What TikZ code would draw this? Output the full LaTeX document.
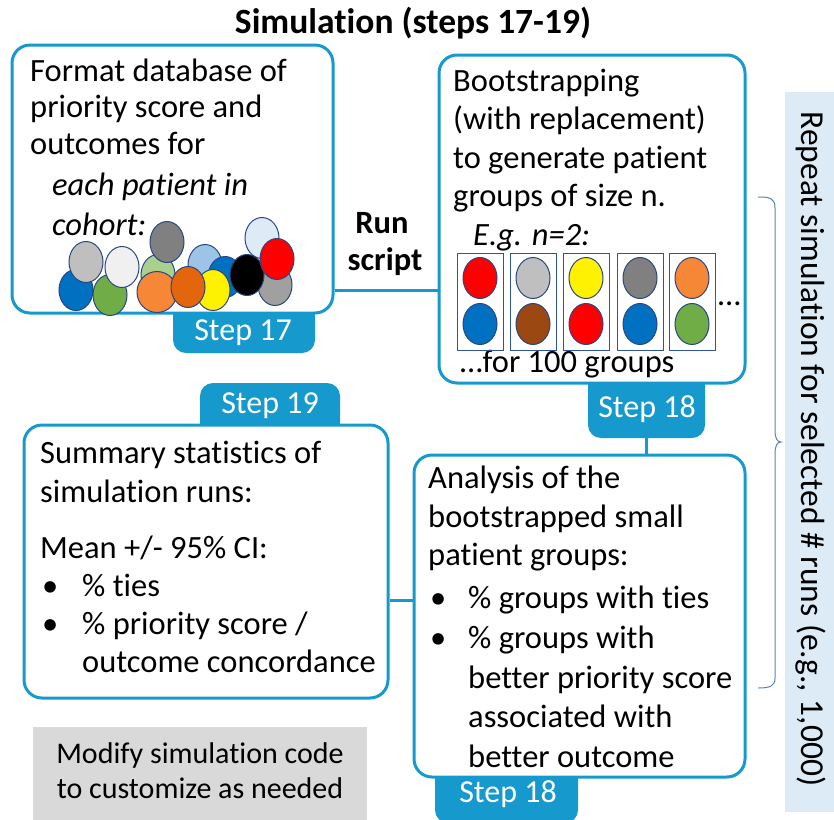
\documentclass[tikz,border=0pt]{standalone}
\usepackage{fontspec}
\setmainfont{Carlito}[Ligatures={NoCommon,NoContextual}]
\usetikzlibrary{shapes.geometric}
\definecolor{sblue}{RGB}{22,153,204}
\definecolor{pairblue}{RGB}{46,85,151}
\definecolor{outl}{RGB}{40,70,130}
\definecolor{panel}{RGB}{221,235,247}
\definecolor{graybox}{RGB}{217,217,217}
\definecolor{cblue}{RGB}{0,112,192}
\definecolor{csilver}{RGB}{191,191,191}
\definecolor{cwhite}{RGB}{240,240,240}
\definecolor{cgreen}{RGB}{112,173,71}
\definecolor{clgreen}{RGB}{169,209,142}
\definecolor{cdgray}{RGB}{128,128,128}
\definecolor{corange}{RGB}{245,135,55}
\definecolor{cdorange}{RGB}{228,102,12}
\definecolor{clblue}{RGB}{157,195,230}
\definecolor{cpale}{RGB}{222,235,247}
\definecolor{cbrown}{RGB}{155,72,18}
\definecolor{braceblue}{RGB}{90,130,180}
\begin{document}
\begin{tikzpicture}[x=1pt,y=-1pt,
  box/.style={draw=sblue, line width=3pt, rounded corners=18pt, fill=white, inner sep=0pt},
  tab/.style={fill=sblue, rounded corners=13pt},
  conn/.style={draw=sblue, line width=3pt},
  body/.style={anchor=base west, inner sep=0pt, font=\fontsize{32.5}{39}\selectfont},
  ibody/.style={body, font=\fontsize{32.5}{39}\selectfont\itshape},
  tabtxt/.style={anchor=base, inner sep=0pt, text=white, font=\fontsize{32}{38}\selectfont},
  bold/.style={anchor=base, inner sep=0pt, font=\fontsize{32.5}{39}\selectfont\bfseries},
  dot/.style={ellipse, draw=outl, line width=1pt, minimum width=34pt, minimum height=41pt, inner sep=0pt},
  pair/.style={draw=pairblue, line width=1pt, minimum width=46pt, minimum height=97pt, inner sep=0pt},
  ]
\useasboundingbox (0,0) rectangle (834,819);

% title
\node[anchor=base, inner sep=0pt, font=\fontsize{35.5}{42}\selectfont\bfseries] (title) at (413,33) {Simulation (steps 17-19)};

% right panel
\node[fill=panel, minimum width=50pt, minimum height=720pt, inner sep=0pt] (panel) at (810,452) {};
\node[rotate=-90, inner sep=0pt, font=\fontsize{33.5}{40}\selectfont] (rep) at (811,449) {Repeat simulation for selected \# runs (e.g., 1,000)};

% brace
\draw[braceblue, line width=1pt] (758,197) .. controls (770,197) and (775,198) .. (775,208)
  -- (775,430) .. controls (775,438) and (777,442) .. (781,442)
  .. controls (777,442) and (775,446) .. (775,454)
  -- (775,678) .. controls (775,686) and (770,688) .. (758,688);

% tabs (drawn under the boxes)
\fill[tab] (173,290) rectangle (315,353);
\fill[tab] (588,360) rectangle (705,438);
\fill[tab] (200,383) rectangle (340,450);
\fill[tab] (435,755) rectangle (578,823);
\coordinate (tab18s) at (646.5,438);

% connectors
\coordinate (y290) at (0,290);
\coordinate (y600) at (0,600);

% boxes
\node[box, minimum width=321pt, minimum height=268pt] (b1) at (172.5,179) {};
\node[box, minimum width=306pt, minimum height=328pt] (b2) at (592,219) {};
\node[box, minimum width=364pt, minimum height=273pt] (b3) at (206,561.5) {};
\node[box, minimum width=331pt, minimum height=322pt] (b4) at (579.5,616) {};

\draw[conn] (b1.east |- y290) -- (b2.west |- y290);
\draw[conn] (b3.east |- y600) -- (b4.west |- y600);
\draw[conn] (tab18s) -- (tab18s |- b4.north);

% tab labels
\node[tabtxt] (s17) at (243,340) {Step 17};
\node[tabtxt] (s18a) at (647,417) {Step 18};
\node[tabtxt] (s19) at (270,413) {Step 19};
\node[tabtxt] (s18b) at (508,802) {Step 18};

% run script
\node[bold] (run1) at (382,233) {Run};
\node[bold] (run2) at (385,270) {script};

% box 1 text
\node[body] (a1) at (30,81) {Format database of};
\node[body] (a2) at (30,117) {priority score and};
\node[body] (a3) at (30,154) {outcomes for};
\node[ibody] (a4) at (52,195) {each patient in};
\node[ibody] (a5) at (52,235) {cohort:};

% patient dots in box 1
\node[dot, fill=cblue] (p1) at (76,290) {};
\node[dot, fill=cgreen] (p2) at (110,295) {};
\node[dot, fill=csilver] (p3) at (86,262) {};
\node[dot, fill=cwhite] (p4) at (122,267) {};
\node[dot, fill=clgreen] (p5) at (158,275) {};
\node[dot, fill=cdgray] (p6) at (167,242) {};
\node[dot, fill=clblue] (p7) at (205,265) {};
\node[dot, fill=cblue] (p8) at (225,277) {};
\node[dot, fill=yellow] (p9) at (213,290) {};
\node[dot, fill=corange, minimum width=40pt] (p10) at (157,292) {};
\node[dot, fill=cdorange] (p11) at (188,287) {};
\node[dot, fill=cpale] (p12) at (262,238) {};
\node[dot, fill=cdgray!75] (p13) at (275,285) {};
\node[dot, fill=black] (p14) at (247,275) {};
\node[dot, fill=red] (p15) at (277,259) {};

% box 2 text
\node[body] (c1) at (453,91) {Bootstrapping};
\node[body] (c2) at (453,129) {(with replacement)};
\node[body] (c3) at (453,168) {to generate patient};
\node[body] (c4) at (453,206) {groups of size n.};
\node[ibody] (c5) at (473,245) {E.g. n=2:};
\node[body] (c6) at (460,372) {\dots for 100 groups};
\node[body] (c7) at (718,305) {\dots};

% pairs
\foreach \i/\x/\ct/\cb in {1/480/red/cblue, 2/533/csilver/cbrown, 3/586/yellow/red, 4/640/cdgray/cblue, 5/692/corange/cgreen}{
  \node[pair] (g\i) at (\x,301.5) {};
  \node[dot, fill=\ct] (g\i t) at (\x,278) {};
  \node[dot, fill=\cb] (g\i b) at (\x,324) {};
}

% box 3 text
\node[body] (d1) at (40,463) {Summary statistics of};
\node[body] (d2) at (40,502) {simulation runs:};
\node[body] (d3) at (40,558) {Mean +/- 95\% CI:};
\node[body] (d4) at (42,596) {\textbullet};
\node[body] (d5) at (82,596) {\% ties};
\node[body] (d6) at (42,634) {\textbullet};
\node[body] (d7) at (82,634) {\% priority score /};
\node[body] (d8) at (82,672) {outcome concordance};

% box 4 text
\node[body] (e1) at (428,488) {Analysis of the};
\node[body] (e2) at (428,527) {bootstrapped small};
\node[body] (e3) at (428,565) {patient groups:};
\node[body] (e4) at (430,608) {\textbullet};
\node[body] (e5) at (468,608) {\% groups with ties};
\node[body] (e6) at (430,648) {\textbullet};
\node[body] (e7) at (468,648) {\% groups with};
\node[body] (e8) at (468,688) {better priority score};
\node[body] (e9) at (468,727) {associated with};
\node[body] (e10) at (468,767) {better outcome};

% gray box
\node[fill=graybox, minimum width=334pt, minimum height=95pt, inner sep=0pt] (gb) at (200,774.5) {};
\node[anchor=base, inner sep=0pt, font=\fontsize{30}{36}\selectfont] (gb1) at (200,763) {Modify simulation code};
\node[anchor=base, inner sep=0pt, font=\fontsize{30}{36}\selectfont] (gb2) at (200,798) {to customize as needed};
\end{tikzpicture}
\end{document}
